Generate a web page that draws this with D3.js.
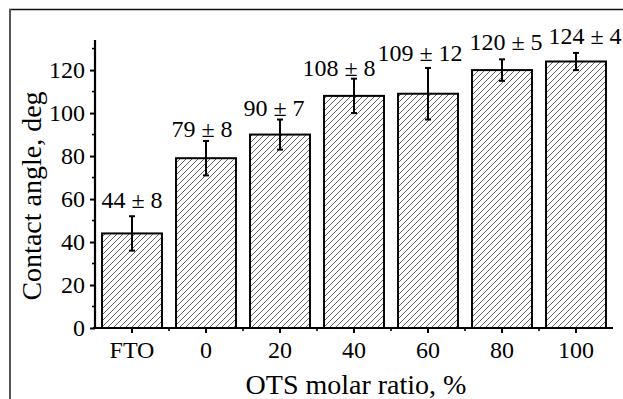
<!DOCTYPE html>
<html>
<head>
<meta charset="utf-8">
<script src="https://cdn.jsdelivr.net/npm/d3@7"></script>
<style>
  body { margin: 0; background: #fff; }
  svg { display: block; }
</style>
</head>
<body>
<svg width="623" height="399"></svg>
<script>
const categories = ['FTO', '0', '20', '40', '60', '80', '100'];
const angles = [44, 79, 90, 108, 109, 120, 124];
const errors = [8, 8, 7, 8, 12, 5, 4];
const yTicks = [0, 20, 40, 60, 80, 100, 120];
const yMinorTicks = [10, 30, 50, 70, 90, 110, 130];
// hand placed value labels in the original: horizontal nudge / gap above error cap (px)
const labelDx = [0, -4, -6, -15, -8, 4, 9];
const labelGap = [8, 4, 4, 3, 7, 9, 9];

const FONT = 'Liberation Serif, Times New Roman, serif';
const data = categories.map((c, i) => ({ cat: c, v: angles[i], e: errors[i], dx: labelDx[i], gap: labelGap[i] }));

const svg = d3.select('svg');
const margin = { top: 40, right: 10, bottom: 71, left: 95 };
const width = 623 - margin.left - margin.right;
const height = 399 - margin.top - margin.bottom;

// outer frame (cut off at right / bottom)
svg.append('line').attr('x1', 9).attr('x2', 623).attr('y1', 9.5).attr('y2', 9.5)
  .attr('stroke', '#111').attr('stroke-width', 1.3);
svg.append('line').attr('x1', 10).attr('x2', 10).attr('y1', 9).attr('y2', 399)
  .attr('stroke', '#555').attr('stroke-width', 2);

// hatch pattern
const defs = svg.append('defs');
defs.append('pattern')
  .attr('id', 'hatch')
  .attr('patternUnits', 'userSpaceOnUse')
  .attr('width', 6).attr('height', 6)
  .append('path')
  .attr('d', 'M-1,1 l2,-2 M0,6 l6,-6 M5,7 l2,-2')
  .attr('stroke', '#333').attr('stroke-width', 0.75);

const g = svg.append('g').attr('transform', `translate(${margin.left},${margin.top})`);

const x = d3.scaleBand().domain(categories).range([0, width]).paddingInner(0.19).paddingOuter(0.095);
const y = d3.scaleLinear().domain([0, 134]).range([height, 0]);

// bars
g.selectAll('.bar')
  .data(data)
  .enter().append('rect')
  .attr('class', 'bar')
  .attr('x', d => x(d.cat))
  .attr('y', d => y(d.v))
  .attr('width', x.bandwidth())
  .attr('height', d => y(0) - y(d.v))
  .attr('fill', 'url(#hatch)')
  .attr('stroke', '#000')
  .attr('stroke-width', 2);

// error bars
const cx = d => x(d.cat) + x.bandwidth() / 2;
const eb = g.selectAll('.err').data(data).enter().append('g').attr('class', 'err')
  .attr('stroke', '#000').attr('stroke-width', 2);
eb.append('line')
  .attr('x1', cx).attr('x2', cx)
  .attr('y1', d => y(d.v - d.e)).attr('y2', d => y(d.v + d.e));
eb.append('line')
  .attr('x1', d => cx(d) - 3).attr('x2', d => cx(d) + 3)
  .attr('y1', d => y(d.v + d.e)).attr('y2', d => y(d.v + d.e));
eb.append('line')
  .attr('x1', d => cx(d) - 3).attr('x2', d => cx(d) + 3)
  .attr('y1', d => y(d.v - d.e)).attr('y2', d => y(d.v - d.e));

// value labels
g.selectAll('.val')
  .data(data)
  .enter().append('text')
  .attr('class', 'val')
  .attr('x', d => cx(d) + d.dx)
  .attr('y', d => y(d.v + d.e) - d.gap)
  .attr('text-anchor', 'middle')
  .attr('font-family', FONT)
  .attr('font-size', 24)
  .attr('fill', '#000')
  .text(d => `${d.v} ± ${d.e}`);

// y axis
const yAxis = g.append('g')
  .attr('class', 'axis axis--y')
  .call(d3.axisLeft(y).tickValues(yTicks).tickSize(5).tickPadding(5));
yAxis.attr('font-family', FONT);
yAxis.select('.domain').attr('d', `M0,${height + 1}V0`).attr('stroke-width', 2.2);
yAxis.selectAll('.tick line').attr('stroke-width', 2);
yAxis.selectAll('.tick text').attr('font-size', 24).attr('fill', '#000')
  .attr('font-family', FONT).attr('dy', '0.3em');
g.append('g').selectAll('line').data(yMinorTicks).enter().append('line')
  .attr('x1', -3).attr('x2', 0).attr('y1', d => y(d)).attr('y2', d => y(d))
  .attr('stroke', '#000').attr('stroke-width', 1.6);

// x axis
const xAxis = g.append('g')
  .attr('class', 'axis axis--x')
  .attr('transform', `translate(0,${height})`)
  .call(d3.axisBottom(x).tickSize(5).tickPadding(8));
xAxis.attr('font-family', FONT);
xAxis.select('.domain').attr('d', `M-2,0H${width}`).attr('stroke-width', 2.2);
xAxis.selectAll('.tick line').attr('stroke-width', 2);
xAxis.selectAll('.tick text').attr('font-size', 24).attr('fill', '#000')
  .attr('font-family', FONT);
g.append('g').selectAll('line').data(categories.slice(1)).enter().append('line')
  .attr('x1', d => x(d) - x.step() * x.paddingInner() / 2)
  .attr('x2', d => x(d) - x.step() * x.paddingInner() / 2)
  .attr('y1', height).attr('y2', height + 3)
  .attr('stroke', '#000').attr('stroke-width', 1.6);

// axis titles
svg.append('text')
  .attr('x', margin.left + width / 2 + 2)
  .attr('y', 394)
  .attr('text-anchor', 'middle')
  .attr('font-family', FONT)
  .attr('font-size', 28)
  .text('OTS molar ratio, %');

svg.append('text')
  .attr('transform', 'translate(41,196) rotate(-90)')
  .attr('text-anchor', 'middle')
  .attr('font-family', FONT)
  .attr('font-size', 28)
  .text('Contact angle, deg');
</script>
</body>
</html>
